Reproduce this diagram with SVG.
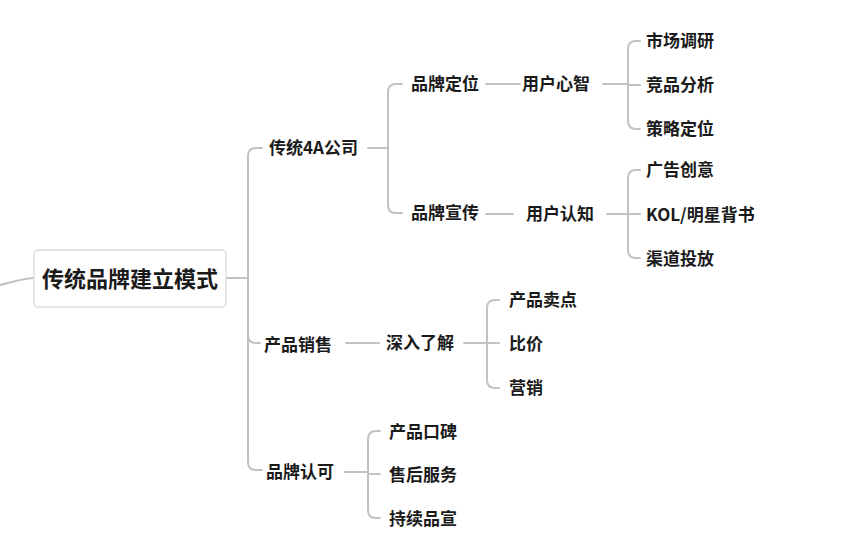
<svg xmlns="http://www.w3.org/2000/svg" width="843" height="548" viewBox="0 0 843 548">
<style>
.t{font-family:"Noto Sans CJK SC","Noto Sans",sans-serif;font-size:17px;font-weight:700;fill:#1a1a1a;dominant-baseline:central}
.r{font-size:22px}
.c{fill:none;stroke:#c2c2c2;stroke-width:2;stroke-linecap:round}
</style>
<rect width="843" height="548" fill="#ffffff"/>
<g id="connectors">
<path class="c" d="M0,285 C14,282 24,278 34,278"/>
<path class="c" d="M226,278 H248"/>
<path class="c" d="M262,148 H256 Q248,148 248,156 V462 Q248,470 256,470 H262"/>
<path class="c" d="M248,335 Q248,343 256,343 H260"/>
<path class="c" d="M368,148 H388"/>
<path class="c" d="M402,84 H396 Q388,84 388,92 V205 Q388,213 396,213 H402"/>
<path class="c" d="M486,84 H520"/>
<path class="c" d="M603,84 H628"/>
<path class="c" d="M640,41 H636 Q628,41 628,49 V121 Q628,129 636,129 H640"/>
<path class="c" d="M628,85 H640"/>
<path class="c" d="M486,214 H513"/>
<path class="c" d="M607,214 H628"/>
<path class="c" d="M640,170 H636 Q628,170 628,178 V250 Q628,258 636,258 H640"/>
<path class="c" d="M628,214 H640"/>
<path class="c" d="M346,343 H379"/>
<path class="c" d="M464,343 H487"/>
<path class="c" d="M499,300 H495 Q487,300 487,308 V380 Q487,388 495,388 H499"/>
<path class="c" d="M487,343 H499"/>
<path class="c" d="M345,472 H368"/>
<path class="c" d="M380,431 H376 Q368,431 368,439 V510 Q368,518 376,518 H380"/>
<path class="c" d="M368,474 H380"/>
</g>
<g id="root">
<rect x="34" y="250" width="192" height="57" rx="4" fill="#ffffff" stroke="#dcdcdc" stroke-width="1.5"/>
<text class="t r" x="130" y="277" text-anchor="middle">传统品牌建立模式</text>
</g>
<g id="n-4a"><text class="t" x="269" y="146">传统4A公司</text></g>
<g id="n-dingwei"><text class="t" x="411" y="82">品牌定位</text></g>
<g id="n-xinzhi"><text class="t" x="522" y="82">用户心智</text></g>
<g id="n-diaoyan"><text class="t" x="646" y="39">市场调研</text></g>
<g id="n-jingpin"><text class="t" x="646" y="83">竞品分析</text></g>
<g id="n-celue"><text class="t" x="646" y="127">策略定位</text></g>
<g id="n-xuanchuan"><text class="t" x="411" y="211">品牌宣传</text></g>
<g id="n-renzhi"><text class="t" x="526" y="212">用户认知</text></g>
<g id="n-guanggao"><text class="t" x="646" y="168">广告创意</text></g>
<g id="n-kol"><text class="t" x="646" y="213">KOL/明星背书</text></g>
<g id="n-qudao"><text class="t" x="646" y="257">渠道投放</text></g>
<g id="n-xiaoshou"><text class="t" x="264" y="343">产品销售</text></g>
<g id="n-shenru"><text class="t" x="386" y="341">深入了解</text></g>
<g id="n-maidian"><text class="t" x="509" y="298">产品卖点</text></g>
<g id="n-bijia"><text class="t" x="509" y="342">比价</text></g>
<g id="n-yingxiao"><text class="t" x="509" y="386">营销</text></g>
<g id="n-renke"><text class="t" x="266" y="470">品牌认可</text></g>
<g id="n-koubei"><text class="t" x="389" y="430">产品口碑</text></g>
<g id="n-shouhou"><text class="t" x="389" y="473">售后服务</text></g>
<g id="n-pinxuan"><text class="t" x="389" y="517">持续品宣</text></g>
</svg>
